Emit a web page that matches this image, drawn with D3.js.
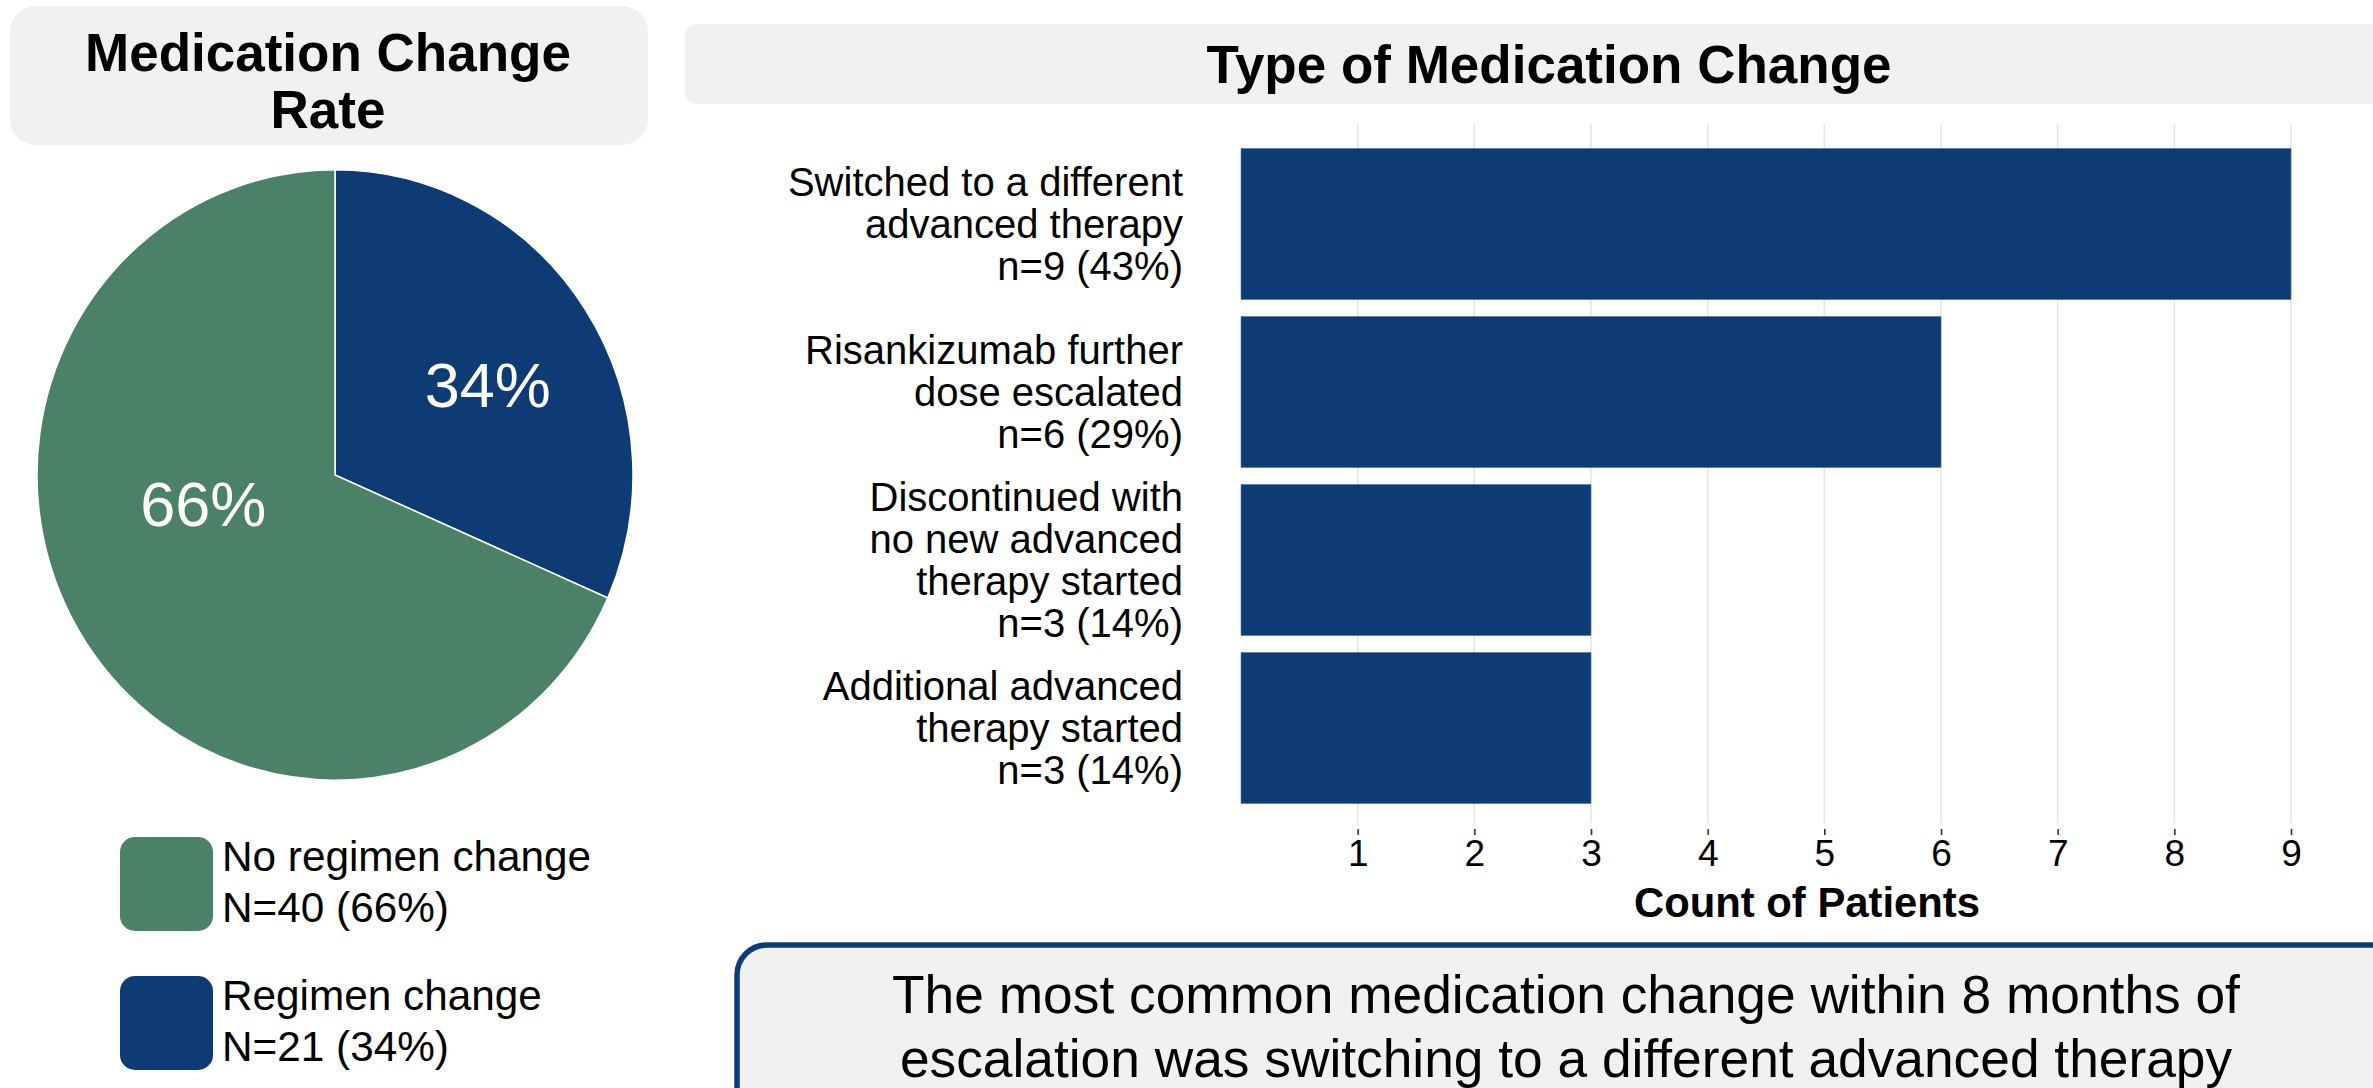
<!DOCTYPE html>
<html>
<head>
<meta charset="utf-8">
<script src="https://cdn.jsdelivr.net/npm/d3@7"></script>
<style>
  html, body { margin: 0; padding: 0; background: #ffffff; }
  svg { display: block; font-family: "Liberation Sans", Arial, Helvetica, sans-serif; }
</style>
</head>
<body>
<svg id="chart" width="2373" height="1088"></svg>
<script>
// ---------------- data ----------------
const pieCategories = ["Regimen change", "No regimen change"];
const pieCounts = [21, 40];
const piePercents = [34, 66];
// share of the circle each slice occupies, as drawn in the picture
const pieShares = [0.316, 0.684];

const barCategories = [
  ["Switched to a different", "advanced therapy"],
  ["Risankizumab further", "dose escalated"],
  ["Discontinued with", "no new advanced", "therapy started"],
  ["Additional advanced", "therapy started"]
];
const barCounts = [9, 6, 3, 3];
const barPercents = [43, 29, 14, 14];
const xTicks = [1, 2, 3, 4, 5, 6, 7, 8, 9];

const titleLeft = ["Medication Change", "Rate"];
const titleRight = "Type of Medication Change";
const xAxisTitle = "Count of Patients";
const footnoteLines = [
  "The most common medication change within 8 months of",
  "escalation was switching to a different advanced therapy"
];

// ---------------- styles ----------------
const BLUE = "#0e3b73";
const GREEN = "#4b8167";
const BOXFILL = "#f1f1f1";
const colorFor = { "Regimen change": BLUE, "No regimen change": GREEN };

const svg = d3.select("#chart");

// ---------------- title boxes ----------------
svg.append("rect").attr("x", 10).attr("y", 6).attr("width", 638).attr("height", 139)
  .attr("rx", 26).attr("fill", BOXFILL);
svg.append("text").attr("x", 328).attr("text-anchor", "middle")
  .attr("font-weight", "bold").attr("font-size", 53).attr("fill", "#000")
  .selectAll("tspan").data(titleLeft).join("tspan")
  .attr("x", 328).attr("y", (d, i) => 71 + i * 57).text(d => d);

svg.append("rect").attr("x", 685).attr("y", 24).attr("width", 1760).attr("height", 80)
  .attr("rx", 12).attr("fill", BOXFILL);
svg.append("text").attr("x", 1549).attr("y", 83).attr("text-anchor", "middle")
  .attr("font-weight", "bold").attr("font-size", 53).attr("fill", "#000").text(titleRight);

// ---------------- pie ----------------
const pieData = pieCategories.map((c, i) => ({ cat: c, count: pieCounts[i], pct: piePercents[i], share: pieShares[i] }));
const R = 298;
const pieG = svg.append("g").attr("transform", "translate(335,475) scale(1,1.024)");
const pie = d3.pie().sort(null).value(d => d.share);
const arcs = pie(pieData);
const arc = d3.arc().innerRadius(0).outerRadius(R);
pieG.selectAll("path").data(arcs).join("path")
  .attr("d", arc).attr("fill", d => colorFor[d.data.cat])
  .attr("stroke", "#ffffff").attr("stroke-width", 1.5);

const labelArc = d3.arc().innerRadius(180).outerRadius(180);
const labelNudge = { "Regimen change": [2, 10], "No regimen change": [19, -72] };
svg.append("g").attr("transform", "translate(335,475)")
  .selectAll("text").data(arcs).join("text")
  .attr("x", d => labelArc.centroid(d)[0] + labelNudge[d.data.cat][0])
  .attr("y", d => labelArc.centroid(d)[1] * 1.024 + labelNudge[d.data.cat][1])
  .attr("dy", "0.36em")
  .attr("text-anchor", "middle").attr("font-size", 63).attr("fill", "#ffffff")
  .text(d => d.data.pct + "%");

// ---------------- legend ----------------
const legendOrder = ["No regimen change", "Regimen change"];
const legend = svg.append("g");
const legItems = legend.selectAll("g").data(legendOrder.map(c => pieData.find(p => p.cat === c)))
  .join("g").attr("transform", (d, i) => `translate(120,${837 + i * 139})`);
legItems.append("rect").attr("width", 93).attr("height", 94).attr("rx", 15)
  .attr("fill", d => colorFor[d.cat]);
legItems.append("text").attr("font-size", 42.3).attr("fill", "#000")
  .selectAll("tspan").data(d => [d.cat, `N=${d.count} (${d.pct}%)`]).join("tspan")
  .attr("x", 102).attr("y", (d, i) => 34 + i * 51).text(d => d);

// ---------------- bar chart ----------------
const barData = barCategories.map((c, i) => ({ lines: c, count: barCounts[i], pct: barPercents[i], key: i }));
const x = d3.scaleLinear().domain([0, 9]).range([1241, 2291]);
const y = d3.scaleBand().domain(barData.map(d => d.key)).range([140, 812])
  .paddingInner(0.1).paddingOuter(0.05);

// gridlines
svg.append("g").selectAll("line").data(xTicks).join("line")
  .attr("x1", d => x(d)).attr("x2", d => x(d)).attr("y1", 124).attr("y2", 823)
  .attr("stroke", "#e6e6e6").attr("stroke-width", 1.6);

// bars
svg.append("g").selectAll("rect").data(barData).join("rect")
  .attr("x", x(0)).attr("y", d => y(d.key))
  .attr("width", d => x(d.count) - x(0)).attr("height", y.bandwidth())
  .attr("fill", BLUE).attr("stroke", "#5d7ba3").attr("stroke-width", 0.6);

// x axis
const xAxis = d3.axisBottom(x).tickValues(xTicks).tickSize(6).tickPadding(6).tickFormat(d3.format("d"));
const axG = svg.append("g").attr("transform", "translate(0,829)").call(xAxis);
axG.select(".domain").remove();
axG.selectAll(".tick line").attr("stroke", "#333").attr("stroke-width", 1.6);
axG.selectAll(".tick text").attr("font-size", 37).attr("fill", "#000")
  .attr("font-family", "'Liberation Sans', Arial, sans-serif").attr("dy", "0.71em").attr("y", 11);

svg.append("text").attr("x", 1807).attr("y", 917).attr("text-anchor", "middle")
  .attr("font-weight", "bold").attr("font-size", 41.8).attr("fill", "#000").text(xAxisTitle);

// category labels
const LH = 42;
svg.append("g").selectAll("text").data(barData).join("text")
  .attr("text-anchor", "end").attr("font-size", 40).attr("fill", "#000")
  .each(function (d) {
    const lines = d.lines.concat([`n=${d.count} (${d.pct}%)`]);
    const cy = y(d.key) + y.bandwidth() / 2;
    const first = cy - (lines.length - 1) * LH / 2 + 14;
    d3.select(this).selectAll("tspan").data(lines).join("tspan")
      .attr("x", 1183).attr("y", (l, i) => first + i * LH).text(l => l);
  });

// ---------------- footnote box ----------------
svg.append("rect").attr("x", 737).attr("y", 945).attr("width", 1700).attr("height", 220)
  .attr("rx", 30).attr("fill", BOXFILL).attr("stroke", BLUE).attr("stroke-width", 5.5);
svg.append("text").attr("text-anchor", "middle").attr("font-size", 53.3).attr("fill", "#000")
  .selectAll("tspan").data(footnoteLines).join("tspan")
  .attr("x", 1566).attr("y", (d, i) => 1013 + i * 64).text(d => d);
</script>
</body>
</html>
